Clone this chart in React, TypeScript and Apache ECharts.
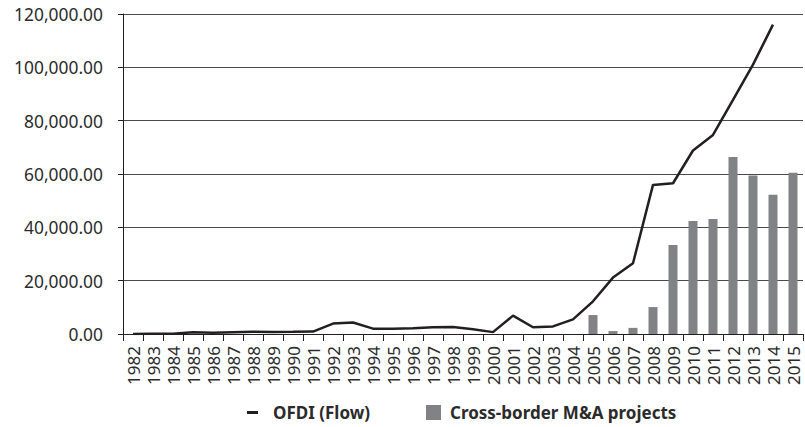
import React, { useEffect, useRef } from "react";
import * as echarts from "echarts";

const years = [
  "1982","1983","1984","1985","1986","1987","1988","1989","1990","1991",
  "1992","1993","1994","1995","1996","1997","1998","1999","2000","2001",
  "2002","2003","2004","2005","2006","2007","2008","2009","2010","2011",
  "2012","2013","2014","2015",
];

const ofdiFlow: (number | null)[] = [
  44, 93, 134, 629, 450, 645, 850, 780, 830, 913,
  3900, 4300, 2000, 2000, 2114, 2562, 2634, 1775, 700, 6885,
  2518, 2855, 5498, 12261, 21160, 26510, 55910, 56530, 68811, 74654,
  87804, 101000, 116000, null,
];

const mnaProjects: (number | null)[] = [
  null, null, null, null, null, null, null, null, null, null,
  null, null, null, null, null, null, null, null, null, null,
  null, null, null, 7100, 1100, 2300, 10100, 33400, 42400, 43100,
  66400, 59400, 52200, 60500,
];

const yTicks = { min: 0, max: 120000, interval: 20000 };

const FONT = "'Noto Sans', 'Liberation Sans', sans-serif";
const TEXT = "#2b2b2b";

export default function App() {
  const ref = useRef<HTMLDivElement>(null);
  useEffect(() => {
    if (!ref.current) return;
    const chart = echarts.init(ref.current, null, { renderer: "svg" });
    chart.setOption({
      animation: false,
      backgroundColor: "#ffffff",
      textStyle: { fontFamily: FONT },
      grid: { left: 123, right: 2, top: 14, bottom: 93, containLabel: false },
      legend: [
        {
          data: [{ name: "OFDI (Flow)", icon: "rect" }],
          left: 242,
          top: 399,
          itemWidth: 11,
          itemHeight: 3,
          itemGap: 10,
          textStyle: {
            fontFamily: FONT,
            fontSize: 17,
            fontWeight: "bold",
            color: TEXT,
            padding: [0, 0, 0, 10],
          },
        },
        {
          data: [{ name: "Cross-border M&A projects", icon: "rect" }],
          left: 421,
          top: 399,
          itemWidth: 15,
          itemHeight: 15,
          itemGap: 10,
          textStyle: {
            fontFamily: FONT,
            fontSize: 17,
            fontWeight: "bold",
            color: TEXT,
            padding: [0, 0, 0, 4],
          },
        },
      ],
      xAxis: {
        type: "category",
        data: years,
        boundaryGap: true,
        axisLine: { show: true, lineStyle: { color: "#231f20", width: 1 } },
        axisTick: { show: true, alignWithLabel: false, length: 7, lineStyle: { color: "#231f20" } },
        axisLabel: {
          interval: 0,
          rotate: 90,
          margin: 12,
          fontSize: 17,
          color: TEXT,
          fontFamily: FONT,
        },
        splitLine: { show: false },
      },
      yAxis: {
        type: "value",
        min: yTicks.min,
        max: yTicks.max,
        interval: yTicks.interval,
        axisLine: { show: true, lineStyle: { color: "#231f20", width: 1 } },
        axisTick: { show: true, length: 5, lineStyle: { color: "#231f20" } },
        axisLabel: {
          margin: 20,
          fontSize: 17.4,
          color: TEXT,
          fontFamily: FONT,
          formatter: (v: number) =>
            v.toLocaleString("en-US", { minimumFractionDigits: 2, maximumFractionDigits: 2 }),
        },
        splitLine: { show: true, lineStyle: { color: "#4a4a4a", width: 1 } },
      },
      series: [
        {
          name: "Cross-border M&A projects",
          type: "bar",
          data: mnaProjects,
          barWidth: 9,
          itemStyle: { color: "#808285" },
        },
        {
          name: "OFDI (Flow)",
          type: "line",
          data: ofdiFlow,
          symbol: "none",
          showSymbol: false,
          connectNulls: false,
          lineStyle: { color: "#231f20", width: 2.5 },
          itemStyle: { color: "#231f20" },
          z: 5,
        },
      ],
    });
    return () => chart.dispose();
  }, []);
  return (
    <div
      ref={ref}
      style={{ position: "fixed", left: 0, top: 0, width: 805, height: 427, background: "#fff" }}
    />
  );
}
